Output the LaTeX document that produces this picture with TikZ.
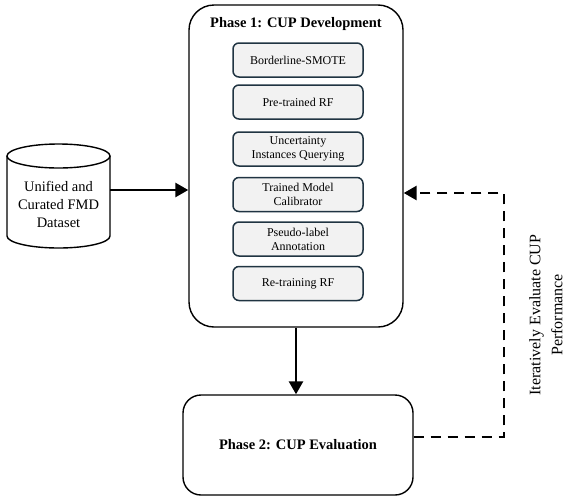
\documentclass[tikz,border=0pt]{standalone}
\usepackage{fontspec}
\setmainfont{Liberation Serif}
\usetikzlibrary{arrows.meta}
\definecolor{stepborder}{RGB}{32,52,66}
\definecolor{stepfill}{RGB}{242,242,242}
\begin{document}
\begin{tikzpicture}[x=1pt,y=-1pt,
  phasebox/.style={draw=black, line width=1.4pt, rounded corners=25pt},
  stepbox/.style={draw=stepborder, fill=stepfill, line width=1.5pt, rounded corners=6pt,
    minimum width=130pt, minimum height=34pt, align=center, font=\fontsize{12}{14}\selectfont, inner sep=0pt},
  flow/.style={line width=2.7pt, -{Triangle[length=13pt,width=14pt]}},
  loopline/.style={line width=2.7pt, dash pattern=on 10pt off 7pt, -{Triangle[length=13pt,width=14pt]}}
]
\useasboundingbox (0,0) rectangle (567,501);
% Phase 1
\node[phasebox, minimum width=214pt, minimum height=322pt] (p1) at (296,166) {};
\node[font=\fontsize{14.5}{16}\selectfont\bfseries] (t1) at (296,24) {Phase 1: CUP Development};
\node[stepbox] (s1) at (298,60) {Borderline-SMOTE};
\node[stepbox] (s2) at (298,102) {Pre-trained RF};
\node[stepbox] (s3) at (298,149) {Uncertainty\\Instances Querying};
\node[stepbox] (s4) at (298,194.5) {Trained Model\\Calibrator};
\node[stepbox] (s5) at (298,239) {Pseudo-label\\Annotation};
\node[stepbox] (s6) at (298,283.5) {Re-training RF};
% Phase 2
\node[phasebox, rounded corners=18pt, minimum width=230pt, minimum height=100pt,
  font=\fontsize{14.5}{16}\selectfont\bfseries] (p2) at (298,445) {Phase 2: CUP Evaluation};
% Cylinder
\draw[line width=1.4pt, fill=white] (7,156) -- (7,236) arc[start angle=180, end angle=0, x radius=51.5, y radius=12] -- (110,156);
\draw[line width=1.4pt] (58.5,156) ellipse[x radius=51.5, y radius=12];
\node[align=center, font=\fontsize{14.5}{18}\selectfont] (db) at (58.5,204) {Unified and\\Curated FMD\\Dataset};
\coordinate (dbr) at (110,190);
% Connectors
\draw[flow] (dbr) -- (dbr -| p1.west);
\draw[flow] (p1.south) -- (p1.south |- p2.north);
\coordinate (c1) at (504,437);
\coordinate (c2) at (504,193);
\draw[loopline] (p2.east |- c1) -- (c1) -- (c2) -- (c2 -| p1.east);
\node[rotate=90, align=center, font=\fontsize{16}{22}\selectfont] (lbl) at (546,315) {Iteratively Evaluate CUP\\Performance};
\end{tikzpicture}
\end{document}
